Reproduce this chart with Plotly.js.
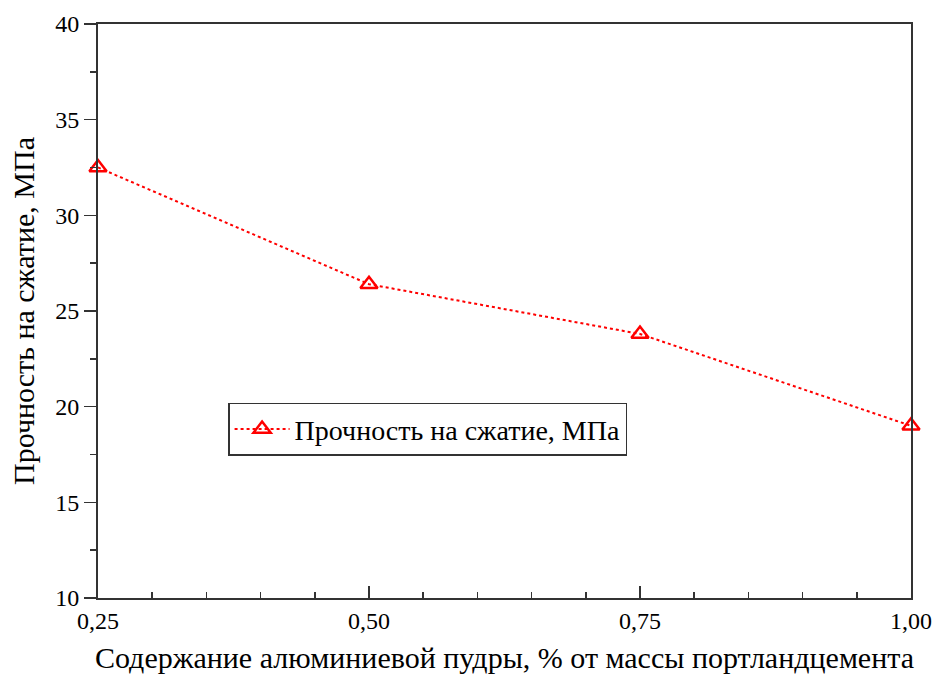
<!DOCTYPE html>
<html>
<head>
<meta charset="utf-8">
<script src="https://cdn.plot.ly/plotly-3.0.1.min.js"></script>
<style>html,body{margin:0;padding:0;background:#fff}#chart{width:935px;height:675px}</style>
</head>
<body>
<div id="chart"></div>
<script>
const xValues = [0.25, 0.50, 0.75, 1.00];
const yValues = [32.5, 26.4, 23.8, 19.0];
const seriesName = "Прочность на сжатие, МПа";
const xTitle = "Содержание алюминиевой пудры, % от массы портландцемента";
const yTitle = "Прочность на сжатие, МПа";
const xTicks = [0.25, 0.50, 0.75, 1.00];
const yTicks = [10, 15, 20, 25, 30, 35, 40];

const font = "Liberation Serif, Times New Roman, serif";

Plotly.newPlot("chart", [{
  x: xValues, y: yValues, name: seriesName,
  type: "scatter", mode: "lines+markers", cliponaxis: false,
  line: {color: "#ff0000", width: 2, dash: "dot"},
  marker: {symbol: "triangle-up-open", size: 15, color: "#ff0000", line: {color: "#ff0000", width: 2.5}}
}], {
  width: 935, height: 675,
  margin: {l: 98, r: 24, t: 24, b: 77},
  paper_bgcolor: "#fff", plot_bgcolor: "#fff",
  separators: ", ",
  font: {family: font, color: "#000", size: 24},
  showlegend: true,
  legend: {x: 0.16, y: 0.34, xanchor: "left", yanchor: "top",
    itemwidth: 55,
    bgcolor: "#fff", bordercolor: "#333", borderwidth: 1.5,
    font: {family: font, size: 28, color: "#000"}},
  xaxis: {
    range: [0.25, 1.0], tickvals: xTicks, tickformat: ".2f",
    ticks: "inside", ticklen: 12, tickwidth: 1.5, tickcolor: "#333",
    minor: {dtick: 0.05, ticks: "inside", ticklen: 6, tickwidth: 1.5, tickcolor: "#333", showgrid: false},
    showline: true, linecolor: "#333", linewidth: 2, mirror: true,
    showgrid: false, zeroline: false, automargin: false,
    tickfont: {family: font, size: 24},
    title: {text: xTitle, font: {family: font, size: 30}, standoff: 14}
  },
  yaxis: {
    range: [10, 40], tickvals: yTicks,
    ticks: "outside", ticklen: 12, tickwidth: 1.5, tickcolor: "#333",
    minor: {dtick: 2.5, ticks: "outside", ticklen: 6, tickwidth: 1.5, tickcolor: "#333", showgrid: false},
    showline: true, linecolor: "#333", linewidth: 2, mirror: true,
    showgrid: false, zeroline: false, automargin: false,
    tickfont: {family: font, size: 24},
    title: {text: yTitle, font: {family: font, size: 30}, standoff: 12}
  }
}, {displayModeBar: false, staticPlot: true});
</script>
</body>
</html>
